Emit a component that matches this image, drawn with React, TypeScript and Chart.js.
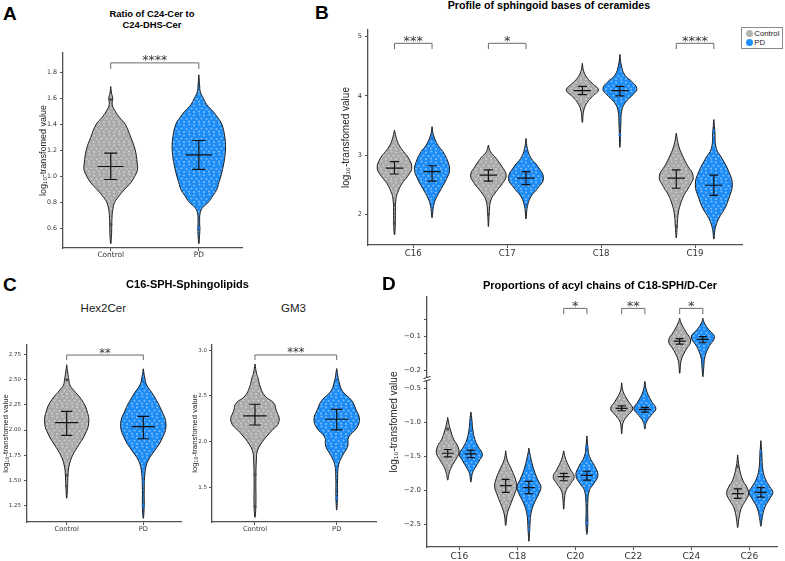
import React, { useEffect, useRef } from "react";
import { Chart, registerables } from "chart.js";

Chart.register(...registerables);

type Profile = [number, number][]; // [value, density half-width]
type Stat = [number, number, number]; // mean, lower, upper

const SANS = '"Liberation Sans", Arial, sans-serif';
const TICK_FONT = '"DejaVu Sans", sans-serif';
const Y_TITLE = "log\u2081\u2080-transfomed value";

// ---------- A: ratio of C24-Cer to C24-DHS-Cer ----------
const groupsA = ["Control", "PD"];
const yTicksA = [0.6, 0.8, 1.0, 1.2, 1.4, 1.6, 1.8];
const densityA_control: Profile = [[1.69, 0], [1.64, 0.8], [1.6, 2], [1.55, 1.5], [1.5, 4.5], [1.45, 9], [1.4, 14.5], [1.3, 20], [1.2, 24.5], [1.1, 26.5], [1.05, 26.7], [1.0, 24], [0.95, 20], [0.9, 14], [0.85, 8.5], [0.8, 4], [0.75, 2.2], [0.7, 1.4], [0.62, 1], [0.55, 0.8], [0.48, 0]];
const densityA_pd: Profile = [[1.78, 0], [1.7, 0.8], [1.65, 1.5], [1.6, 4.5], [1.55, 8], [1.5, 14], [1.45, 19], [1.4, 23], [1.3, 26], [1.22, 26.7], [1.15, 26], [1.1, 25], [1.0, 22], [0.95, 20], [0.9, 18], [0.85, 14], [0.8, 9.5], [0.76, 4], [0.72, 1.4], [0.65, 0.8], [0.6, 1], [0.55, 0.8], [0.48, 0]];
const statA_control: Stat = [1.075, 0.975, 1.178];
const statA_pd: Stat = [1.165, 1.053, 1.275];
const tailsA_control = [1.59, 0.63];
const tailsA_pd = [0.6];
const sigA = "****";

// ---------- B: sphingoid bases ----------
const basesB = ["C16", "C17", "C18", "C19"];
const yTicksB = [2, 3, 4, 5];
const densityB_control: Profile[] = [
  [[3.42, 0], [3.28, 2], [3.17, 4.5], [3.06, 9], [2.95, 14], [2.78, 17.3], [2.64, 13], [2.52, 7.5], [2.38, 3.5], [2.27, 1.6], [2.05, 0.9], [1.82, 0.8], [1.65, 0]],
  [[3.17, 0], [3.06, 2], [2.95, 7.5], [2.81, 13.3], [2.66, 17.8], [2.52, 14], [2.38, 7.5], [2.24, 2.5], [2.05, 0.9], [1.79, 0]],
  [[4.55, 0], [4.41, 1.5], [4.3, 5], [4.21, 10], [4.1, 16], [3.99, 10], [3.89, 5], [3.76, 1.5], [3.55, 0]],
  [[3.37, 0], [3.17, 2.2], [3.0, 6], [2.83, 11], [2.64, 17], [2.47, 13], [2.33, 8], [2.16, 4], [1.99, 1.8], [1.79, 0.9], [1.6, 0]],
];
const densityB_pd: Profile[] = [
  [[3.48, 0], [3.34, 1.4], [3.17, 5.8], [3.06, 10.8], [2.89, 15.8], [2.74, 17.5], [2.61, 14.8], [2.44, 9.5], [2.27, 4], [2.13, 1.4], [1.94, 0]],
  [[3.28, 0], [3.11, 1.4], [2.95, 5], [2.81, 11.7], [2.61, 17.5], [2.44, 11.7], [2.3, 5], [2.13, 1.4], [1.92, 0]],
  [[4.7, 0], [4.52, 1.4], [4.35, 5], [4.24, 12], [4.12, 17], [4.02, 13], [3.9, 6], [3.76, 2], [3.51, 0.9], [3.13, 0]],
  [[3.6, 0], [3.4, 1], [3.11, 2.5], [2.95, 8], [2.72, 15], [2.5, 18.5], [2.27, 15], [2.1, 11], [1.93, 5], [1.76, 1.4], [1.58, 0]],
];
const statB_control: Stat[] = [[2.78, 2.68, 2.89], [2.66, 2.56, 2.75], [4.09, 4.02, 4.16], [2.61, 2.44, 2.75]];
const statB_pd: Stat[] = [[2.72, 2.56, 2.82], [2.61, 2.5, 2.72], [4.09, 4.0, 4.16], [2.49, 2.32, 2.66]];
const tailsB_control = [[2.16, 1.85], [2.0], [], [1.79]];
const tailsB_pd = [[3.28], [3.06, 2.16], [4.49, 3.34], [3.41, 3.24, 1.79]];
const sigB = ["***", "*", "", "****"];

// ---------- C: C16-SPH sphingolipids ----------
const groupsC = ["Control", "PD"];
const yTicksHex = [1.25, 1.5, 1.75, 2.0, 2.25, 2.5, 2.75];
const densityHex_control: Profile = [[2.65, 0], [2.58, 0.9], [2.5, 2.2], [2.45, 3.2], [2.4, 6.7], [2.3, 15], [2.2, 20], [2.07, 22], [1.95, 18], [1.85, 12], [1.75, 6], [1.65, 2.5], [1.55, 1.3], [1.45, 0.9], [1.32, 0]];
const densityHex_pd: Profile = [[2.61, 0], [2.52, 1.5], [2.45, 3.3], [2.35, 10], [2.2, 18], [2.05, 22.7], [1.9, 18], [1.8, 11.7], [1.7, 5], [1.6, 2], [1.4, 0.9], [1.25, 0.9], [1.12, 0]];
const statHex_control: Stat = [2.073, 1.947, 2.186];
const statHex_pd: Stat = [2.033, 1.913, 2.136];
const tailsHex_control = [2.5, 1.55, 1.44];
const tailsHex_pd = [2.48, 1.49, 1.25];
const sigHex = "**";

const yTicksGM3 = [1.5, 2.0, 2.5, 3.0];
const densityGM3_control: Profile = [[2.85, 0], [2.75, 1.5], [2.7, 3], [2.6, 5.3], [2.5, 10], [2.42, 19], [2.35, 21], [2.22, 24], [2.1, 15], [2.0, 7.5], [1.9, 2.5], [1.8, 1.4], [1.6, 0.9], [1.3, 0.9], [1.17, 0]];
const densityGM3_pd: Profile = [[2.8, 0], [2.65, 2.5], [2.55, 6], [2.45, 15], [2.35, 19.3], [2.25, 22.7], [2.15, 20], [2.05, 12], [1.95, 11], [1.85, 6], [1.75, 2], [1.6, 0.9], [1.4, 0.8], [1.25, 0]];
const statGM3_control: Stat = [2.281, 2.182, 2.409];
const statGM3_pd: Stat = [2.245, 2.128, 2.354];
const tailsGM3_control = [1.64, 1.29];
const tailsGM3_pd = [2.68, 1.71, 1.38];
const sigGM3 = "***";

// ---------- D: acyl chains of C18-SPH/D-Cer ----------
const chainsD = ["C16", "C18", "C20", "C22", "C24", "C26"];
const yTicksD = [-2.5, -2.0, -1.5, -1.0, -0.5, -0.2, -0.1];
const yMinorD = [-0.15, -0.05];
const densityD_control: Profile[] = [
  [[-0.93, 0], [-1.0, 0.9], [-1.1, 2.5], [-1.25, 6], [-1.35, 10], [-1.45, 11.3], [-1.55, 8], [-1.65, 4], [-1.75, 1.4], [-1.85, 0]],
  [[-1.42, 0], [-1.55, 1.5], [-1.7, 6], [-1.85, 10], [-1.95, 11], [-2.05, 9], [-2.2, 5], [-2.35, 1.5], [-2.52, 0]],
  [[-1.42, 0], [-1.55, 2.2], [-1.7, 7], [-1.8, 10.5], [-1.9, 7], [-2.0, 2.5], [-2.1, 1], [-2.28, 0]],
  [[-0.42, 0], [-0.55, 1.5], [-0.7, 7], [-0.8, 11], [-0.9, 6], [-1.0, 1.5], [-1.17, 0]],
  [[-0.046, 0], [-0.06, 1.5], [-0.085, 6], [-0.113, 11], [-0.14, 6], [-0.17, 1.5], [-0.208, 0]],
  [[-1.48, 0], [-1.65, 1.4], [-1.85, 5], [-1.95, 9], [-2.05, 11], [-2.15, 8], [-2.25, 4], [-2.4, 1.4], [-2.55, 0]],
];
const densityD_pd: Profile[] = [
  [[-0.85, 0], [-0.95, 0.9], [-1.1, 1.8], [-1.25, 4], [-1.35, 7], [-1.47, 11.5], [-1.55, 9], [-1.65, 5], [-1.75, 1.5], [-1.88, 0]],
  [[-1.38, 0], [-1.5, 1.5], [-1.7, 5], [-1.85, 9], [-1.95, 12], [-2.05, 10], [-2.2, 5], [-2.35, 2], [-2.55, 0.9], [-2.75, 0]],
  [[-1.2, 0], [-1.35, 0.9], [-1.5, 2.5], [-1.65, 8], [-1.78, 11], [-1.9, 7], [-2.0, 2.5], [-2.2, 0.9], [-2.5, 0.9], [-2.65, 0]],
  [[-0.4, 0], [-0.55, 2], [-0.7, 7], [-0.8, 11], [-0.9, 6], [-1.0, 1.5], [-1.1, 0]],
  [[-0.046, 0], [-0.06, 1.5], [-0.08, 6], [-0.101, 11.5], [-0.13, 6], [-0.16, 2], [-0.19, 0.9], [-0.218, 0]],
  [[-1.27, 0], [-1.45, 0.9], [-1.7, 2], [-1.85, 5], [-1.95, 9], [-2.03, 12], [-2.12, 9], [-2.25, 4], [-2.4, 1.4], [-2.53, 0]],
];
const statD_control: Stat[] = [[-1.455, -1.51, -1.4], [-1.93, -2.03, -1.84], [-1.8, -1.86, -1.75], [-0.795, -0.83, -0.76], [-0.113, -0.122, -0.106], [-2.05, -2.12, -1.98]];
const statD_pd: Stat[] = [[-1.465, -1.52, -1.41], [-1.96, -2.05, -1.87], [-1.78, -1.85, -1.72], [-0.81, -0.85, -0.78], [-0.108, -0.118, -0.1], [-2.03, -2.1, -1.96]];
const tailsD_control = [[-1.1], [], [], [], [], [-1.65]];
const tailsD_pd = [[-1.0, -1.12], [-2.38, -2.58], [-1.36, -2.48], [], [-0.17], [-1.43, -2.38]];
const sigD = ["", "", "*", "**", "*", ""];

const legendItems = ["Control", "PD"];

// The D axis is broken between -0.5 and -0.2: below the break one tick step is 0.5,
// above it one tick step is 0.1.
const brokenY = (v: number) => (v < -0.3 ? 2 * v : -0.48 + 10 * (v + 0.2));
const minus = (v: number, d: number) => (v < 0 ? "\u2212" : "") + Math.abs(v).toFixed(d);

interface Violin { at: number; shape: Profile; stat: Stat; tails: number[]; pd: boolean }
interface Bracket { x1: number; x2: number; top: number; drop: number; text: string }
interface PanelSpec {
  canvas: { left: number; top: number; width: number; height: number };
  yAxisWidth: number; xAxisHeight: number; padTop: number; padRight: number;
  xMin: number; xMax: number; yMin: number; yMax: number;
  xLabels: string[]; yTicks: number[]; yMinor?: number[]; yFmt: (v: number) => string;
  yMap?: (v: number) => number;
  yTitleSize: number; tickSize: number; catSize: number; xPad: number; yPad: number;
  violins: Violin[]; densityToX: number; meanHalf: number; capHalf: number;
  brackets: Bracket[]; starSize: number; axisBreak?: number;
}

function pairs(n: number, c: Profile[], p: Profile[], cs: Stat[], ps: Stat[], ct: number[][], pt: number[][], off: number): Violin[] {
  const out: Violin[] = [];
  for (let i = 0; i < n; i++) {
    out.push({ at: i + 1 - off, shape: c[i], stat: cs[i], tails: ct[i], pd: false });
    out.push({ at: i + 1 + off, shape: p[i], stat: ps[i], tails: pt[i], pd: true });
  }
  return out;
}

const panelA: PanelSpec = {
  canvas: { left: 38, top: 43, width: 210, height: 221 },
  yAxisWidth: 25, xAxisHeight: 16, padTop: 10, padRight: 6,
  xMin: 0.458, xMax: 2.49, yMin: 0.448, yMax: 1.948,
  xLabels: groupsA, yTicks: yTicksA, yFmt: (v) => v.toFixed(1),
  yTitleSize: 9, tickSize: 6.3, catSize: 7.4, xPad: 0, yPad: 3,
  violins: [
    { at: 1, shape: densityA_control, stat: statA_control, tails: tailsA_control, pd: false },
    { at: 2, shape: densityA_pd, stat: statA_pd, tails: tailsA_pd, pd: true },
  ],
  densityToX: 1 / 88.1, meanHalf: 0.148, capHalf: 0.074,
  brackets: [{ x1: 1, x2: 2, top: 1.872, drop: 1.825, text: sigA }], starSize: 12.5,
};

const panelB: PanelSpec = {
  canvas: { left: 340, top: 20, width: 406, height: 242 },
  yAxisWidth: 28, xAxisHeight: 17, padTop: 10, padRight: 4,
  xMin: 0.518, xMax: 4.5, yMin: 1.481, yMax: 5.113,
  xLabels: basesB, yTicks: yTicksB, yFmt: (v) => v.toFixed(0),
  yTitleSize: 10, tickSize: 6.5, catSize: 8.6, xPad: 0.5, yPad: 3,
  violins: pairs(4, densityB_control, densityB_pd, statB_control, statB_pd, tailsB_control, tailsB_pd, 0.2),
  densityToX: 1 / 93.9, meanHalf: 0.093, capHalf: 0.048,
  brackets: sigB.map((s, i) => ({ x1: i + 0.8, x2: i + 1.2, top: 4.888, drop: 4.79, text: s })).filter((b) => b.text),
  starSize: 13,
};

const panelHex: PanelSpec = {
  canvas: { left: 1, top: 335, width: 184, height: 202 },
  yAxisWidth: 26, xAxisHeight: 15, padTop: 10, padRight: 4,
  xMin: 0.482, xMax: 2.492, yMin: 1.084, yMax: 2.847,
  xLabels: groupsC, yTicks: yTicksHex, yFmt: (v) => v.toFixed(2),
  yTitleSize: 7.8, tickSize: 5.5, catSize: 6.7, xPad: 0, yPad: 3,
  violins: [
    { at: 1, shape: densityHex_control, stat: statHex_control, tails: tailsHex_control, pd: false },
    { at: 2, shape: densityHex_pd, stat: statHex_pd, tails: tailsHex_pd, pd: true },
  ],
  densityToX: 1 / 76.6, meanHalf: 0.152, capHalf: 0.074,
  brackets: [{ x1: 1, x2: 2, top: 2.747, drop: 2.697, text: sigHex }], starSize: 11.5,
};

const panelGM3: PanelSpec = {
  canvas: { left: 190, top: 335, width: 190, height: 202 },
  yAxisWidth: 22, xAxisHeight: 15, padTop: 10, padRight: 4,
  xMin: 0.474, xMax: 2.481, yMin: 1.12, yMax: 3.058,
  xLabels: groupsC, yTicks: yTicksGM3, yFmt: (v) => v.toFixed(1),
  yTitleSize: 7.8, tickSize: 5.5, catSize: 6.7, xPad: 0, yPad: 2,
  violins: [
    { at: 1, shape: densityGM3_control, stat: statGM3_control, tails: tailsGM3_control, pd: false },
    { at: 2, shape: densityGM3_pd, stat: statGM3_pd, tails: tailsGM3_pd, pd: true },
  ],
  densityToX: 1 / 81.7, meanHalf: 0.143, capHalf: 0.07,
  brackets: [{ x1: 1, x2: 2, top: 2.949, drop: 2.894, text: sigGM3 }], starSize: 11.5,
};

const panelD: PanelSpec = {
  canvas: { left: 388, top: 287, width: 393, height: 274 },
  yAxisWidth: 39, xAxisHeight: 14, padTop: 10, padRight: 4,
  xMin: 0.443, xMax: 6.478, yMin: -5.668, yMax: 1.685,
  xLabels: chainsD, yTicks: yTicksD, yMinor: yMinorD, yFmt: (v) => minus(v, 1), yMap: brokenY,
  yTitleSize: 10, tickSize: 7, catSize: 9, xPad: 1, yPad: 3,
  violins: pairs(6, densityD_control, densityD_pd, statD_control, statD_pd, tailsD_control, tailsD_pd, 0.2),
  densityToX: 1 / 58, meanHalf: 0.103, capHalf: 0.069,
  brackets: sigD.map((s, i) => ({ x1: i + 0.8, x2: i + 1.2, top: -0.017, drop: -0.034, text: s })).filter((b) => b.text),
  starSize: 13, axisBreak: -0.726,
};

const panels = [panelA, panelB, panelHex, panelGM3, panelD];

// Light speckles over the violin body, standing in for the overplotted sample points.
function speckle(base: string, light: string) {
  const c = document.createElement("canvas");
  c.width = 10;
  c.height = 10;
  const g = c.getContext("2d")!;
  g.fillStyle = base;
  g.fillRect(0, 0, 10, 10);
  g.fillStyle = light;
  const dots = [[1.5, 1.5], [6, 2.5], [3.5, 5.5], [8.5, 6], [1, 8.5], [6, 9]];
  for (const [x, y] of dots) {
    g.beginPath();
    g.arc(x, y, 1.1, 0, Math.PI * 2);
    g.fill();
  }
  return g.createPattern(c, "repeat")!;
}

function outline(at: number, shape: Profile, k: number, map: (v: number) => number) {
  const right = shape.map(([v, w]) => ({ x: at + w * k, y: map(v) }));
  const left = shape.slice(1, -1).reverse().map(([v, w]) => ({ x: at - w * k, y: map(v) }));
  return [...right, ...left, right[0]];
}

function errorBar(at: number, [mean, lo, hi]: Stat, mh: number, ch: number, map: (v: number) => number) {
  const gap = { x: at, y: null };
  return [
    { x: at - ch, y: map(lo) }, { x: at + ch, y: map(lo) }, gap,
    { x: at - ch, y: map(hi) }, { x: at + ch, y: map(hi) }, gap,
    { x: at, y: map(lo) }, { x: at, y: map(hi) }, gap,
    { x: at - mh, y: map(mean) }, { x: at + mh, y: map(mean) },
  ];
}

function annotations(spec: PanelSpec) {
  const map = spec.yMap ?? ((v: number) => v);
  return {
    id: "annotations",
    afterDatasetsDraw(chart: any) {
      const { ctx, scales, chartArea } = chart;
      const x = scales.x;
      const y = scales.y;
      ctx.save();
      for (const b of spec.brackets) {
        const x1 = x.getPixelForValue(b.x1);
        const x2 = x.getPixelForValue(b.x2);
        const yt = y.getPixelForValue(map(b.top));
        const yd = y.getPixelForValue(map(b.drop));
        ctx.strokeStyle = "#6a6a6a";
        ctx.lineWidth = 1;
        ctx.beginPath();
        ctx.moveTo(x1, yd);
        ctx.lineTo(x1, yt);
        ctx.lineTo(x2, yt);
        ctx.lineTo(x2, yd);
        ctx.stroke();
        ctx.fillStyle = "#333";
        ctx.font = `${spec.starSize}px ${TICK_FONT}`;
        ctx.textAlign = "center";
        ctx.textBaseline = "alphabetic";
        ctx.fillText(b.text, (x1 + x2) / 2, yt + 1.5);
      }
      if (spec.axisBreak !== undefined) {
        const py = y.getPixelForValue(spec.axisBreak);
        const px = chartArea.left;
        ctx.fillStyle = "#fff";
        ctx.fillRect(px - 2, py - 1.5, 4, 3);
        ctx.strokeStyle = "#333";
        ctx.lineWidth = 1;
        ctx.beginPath();
        ctx.moveTo(px - 3.5, py - 0.5);
        ctx.lineTo(px + 3.5, py - 2.5);
        ctx.moveTo(px - 3.5, py + 2.5);
        ctx.lineTo(px + 3.5, py + 0.5);
        ctx.stroke();
      }
      ctx.restore();
    },
  };
}

function buildConfig(spec: PanelSpec, fills: { control: CanvasPattern; pd: CanvasPattern }): any {
  const map = spec.yMap ?? ((v: number) => v);
  const datasets: any[] = [];
  for (const v of spec.violins) {
    datasets.push({
      data: outline(v.at, v.shape, spec.densityToX, map),
      fill: "shape",
      backgroundColor: v.pd ? fills.pd : fills.control,
      borderColor: "#1c1c1c",
      borderWidth: 1,
      pointRadius: 0,
      tension: 0.45,
      order: 3,
    });
    if (v.tails.length) {
      datasets.push({
        data: v.tails.map((t) => ({ x: v.at, y: map(t) })),
        showLine: false,
        pointRadius: 1.5,
        pointBorderWidth: 0,
        pointBackgroundColor: v.pd ? "#1f6fd1" : "#4a4a4a",
        order: 2,
      });
    }
    datasets.push({
      data: errorBar(v.at, v.stat, spec.meanHalf, spec.capHalf, map),
      borderColor: "#111",
      borderWidth: 1.2,
      pointRadius: 0,
      tension: 0,
      spanGaps: false,
      fill: false,
      order: 1,
    });
  }

  const yTickList = [
    ...spec.yTicks.map((v) => ({ value: map(v), text: spec.yFmt(v) })),
    ...(spec.yMinor ?? []).map((v) => ({ value: map(v), text: "" })),
  ];
  const axisColor = "#505050";

  return {
    type: "line",
    data: { datasets },
    options: {
      animation: false,
      responsive: false,
      devicePixelRatio: 1,
      events: [],
      layout: { padding: { top: spec.padTop, right: spec.padRight, left: 0, bottom: 0 } },
      plugins: { legend: { display: false }, tooltip: { enabled: false } },
      scales: {
        x: {
          type: "linear",
          position: "bottom",
          min: spec.xMin,
          max: spec.xMax,
          afterBuildTicks: (ax: any) => {
            ax.ticks = spec.xLabels.map((_, i) => ({ value: i + 1 }));
          },
          afterFit: (ax: any) => {
            ax.height = spec.xAxisHeight;
          },
          ticks: {
            autoSkip: false,
            maxRotation: 0,
            padding: spec.xPad,
            color: "#333",
            font: { family: TICK_FONT, size: spec.catSize },
            callback: (_v: number, i: number) => spec.xLabels[i],
          },
          grid: { display: true, drawOnChartArea: false, drawTicks: true, tickLength: 3, color: axisColor },
          border: { display: true, color: axisColor, width: 1.3 },
        },
        y: {
          type: "linear",
          position: "left",
          min: spec.yMin,
          max: spec.yMax,
          afterBuildTicks: (ax: any) => {
            ax.ticks = yTickList.map((t) => ({ value: t.value }));
          },
          afterFit: (ax: any) => {
            ax.width = spec.yAxisWidth;
          },
          ticks: {
            autoSkip: false,
            padding: spec.yPad,
            color: "#333",
            font: { family: TICK_FONT, size: spec.tickSize },
            callback: (_v: number, i: number) => yTickList[i].text,
          },
          grid: { display: true, drawOnChartArea: false, drawTicks: true, tickLength: 3, color: axisColor },
          border: { display: true, color: axisColor, width: 1.3 },
          title: {
            display: true,
            text: Y_TITLE,
            color: "#222",
            padding: 0,
            font: { family: SANS, size: spec.yTitleSize },
          },
        },
      },
    },
    plugins: [annotations(spec)],
  };
}

function ViolinPanel({ spec }: { spec: PanelSpec }) {
  const ref = useRef<HTMLCanvasElement>(null);
  useEffect(() => {
    const canvas = ref.current;
    if (!canvas) return;
    const fills = { control: speckle("#a9a9a9", "#cbcbcb"), pd: speckle("#1b8cf5", "#78b9fa") };
    const chart = new Chart(canvas, buildConfig(spec, fills));
    return () => chart.destroy();
  }, [spec]);
  const { left, top, width, height } = spec.canvas;
  return <canvas ref={ref} width={width} height={height} style={{ position: "absolute", left, top, width, height }} />;
}

function Text({ text, x, base, size, weight = 400, center = true, color = "#000" }: {
  text: string; x: number; base: number; size: number; weight?: number; center?: boolean; color?: string;
}) {
  return (
    <div
      style={{
        position: "absolute",
        left: x,
        top: base - 0.8465 * size,
        transform: center ? "translateX(-50%)" : undefined,
        fontFamily: SANS,
        fontSize: size,
        lineHeight: `${size}px`,
        fontWeight: weight,
        color,
        whiteSpace: "nowrap",
      }}
    >
      {text}
    </div>
  );
}

export default function App() {
  return (
    <div style={{ position: "absolute", left: 0, top: 0, width: 785, height: 561, overflow: "hidden", background: "#fff" }}>
      {panels.map((p, i) => (
        <ViolinPanel key={i} spec={p} />
      ))}

      <Text text="A" x={3} base={20.5} size={19} weight={700} center={false} />
      <Text text="B" x={315} base={19.5} size={19} weight={700} center={false} />
      <Text text="C" x={3} base={291} size={19} weight={700} center={false} />
      <Text text="D" x={382} base={290} size={19} weight={700} center={false} />

      <Text text="Ratio of C24-Cer to" x={152} base={16.7} size={9.4} weight={700} />
      <Text text="C24-DHS-Cer" x={152} base={28} size={9.4} weight={700} />
      <Text text="Profile of sphingoid bases of ceramides" x={549} base={9.5} size={10.7} weight={700} />
      <Text text="C16-SPH-Sphingolipids" x={187.5} base={288.5} size={11} weight={700} />
      <Text text="Proportions of acyl chains of C18-SPH/D-Cer" x={600} base={289} size={11} weight={700} />
      <Text text="Hex2Cer" x={103.3} base={312.3} size={11.5} color="#222" />
      <Text text="GM3" x={293.5} base={312.3} size={11.5} color="#222" />

      <div
        style={{
          position: "absolute",
          left: 741,
          top: 27,
          width: 42,
          height: 22,
          border: "1px solid #8a8a8a",
          boxSizing: "border-box",
          background: "#fff",
        }}
      >
        {legendItems.map((name, i) => (
          <React.Fragment key={name}>
            <div
              style={{
                position: "absolute",
                left: 3.5,
                top: 1.8 + i * 9,
                width: 7,
                height: 7,
                borderRadius: "50%",
                background: i ? "#1e90ff" : "#b4b4b4",
              }}
            />
            <div
              style={{
                position: "absolute",
                left: 12.3,
                top: 0.8 + i * 9,
                fontFamily: SANS,
                fontSize: 7.8,
                lineHeight: "9px",
                color: "#222",
                whiteSpace: "nowrap",
              }}
            >
              {name}
            </div>
          </React.Fragment>
        ))}
      </div>
    </div>
  );
}
